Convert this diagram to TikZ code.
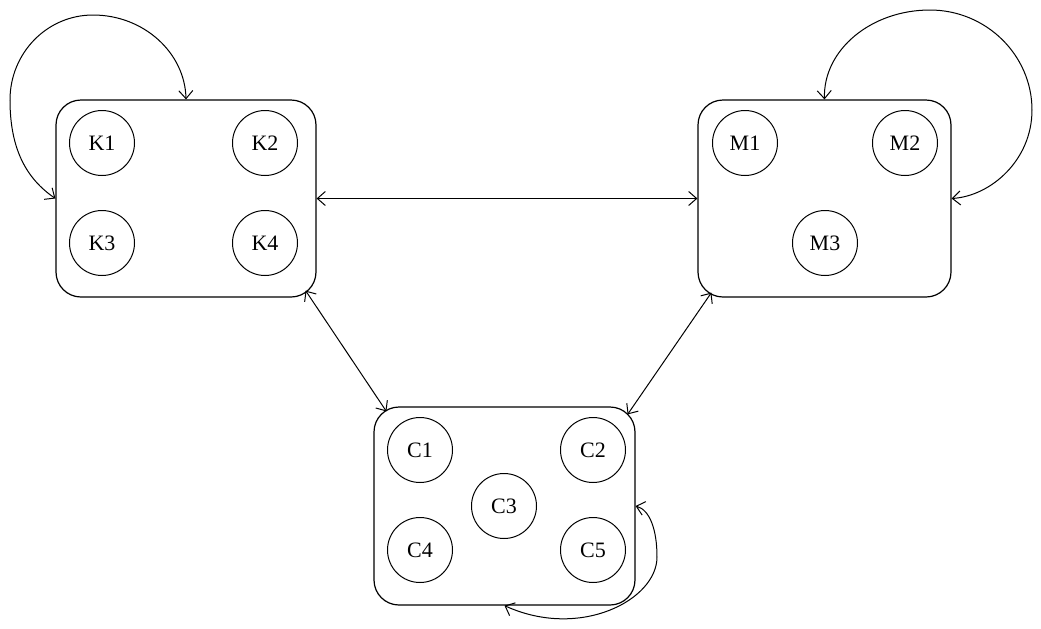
\documentclass[tikz,border=0pt]{standalone}
\usepackage{fontspec}
\setmainfont{Liberation Serif}
\usetikzlibrary{arrows.meta}
\begin{document}
\begin{tikzpicture}[x=0.5pt,y=-0.5pt,
  >={Straight Barb[length=4pt,width=7pt]},
  group/.style={draw,line width=0.6pt,rounded corners=12.5pt,inner sep=0pt},
  st/.style={draw,circle,line width=0.5pt,minimum size=32.5pt,inner sep=0pt,font=\fontsize{11}{13}\selectfont},
  link/.style={<->,line width=0.5pt}]
\useasboundingbox (0,0) rectangle (1041,628);
% groups
\node[group,minimum width=130pt,minimum height=98.5pt] (K) at (186,198.5) {};
\node[group,minimum width=126.5pt,minimum height=98.5pt] (M) at (824.5,198.5) {};
\node[group,minimum width=130.5pt,minimum height=99pt] (C) at (504.5,506) {};
% states
\node[st] (K1) at (102,143) {K1};
\node[st] (K2) at (265,143) {K2};
\node[st] (K3) at (102,243) {K3};
\node[st] (K4) at (265,243) {K4};
\node[st] (M1) at (745,143) {M1};
\node[st] (M2) at (905,143) {M2};
\node[st] (M3) at (825,243) {M3};
\node[st] (C1) at (420,450) {C1};
\node[st] (C2) at (593,450) {C2};
\node[st] (C3) at (504,506) {C3};
\node[st] (C4) at (420,550) {C4};
\node[st] (C5) at (593,550) {C5};
% connectors
\draw[link] (K.east) -- (M.west);
\draw[link] ([shift={(-11,-7)}]K.south east) -- ([shift={(13,5)}]C.north west);
\draw[link] ([shift={(14,-5)}]M.south west) -- ([shift={(-8,8)}]C.north east);
% loops
\draw[link] (K.west) .. controls (27,179) and (10,150) .. (10,100)
  .. controls (10,53) and (47,15) .. (93,15)
  .. controls (144,15) and (185,53) .. (K.north);
\draw[link] (M.north) .. controls (823,50) and (871,10) .. (930,10)
  .. controls (986,10) and (1032,55) .. (1032,110)
  .. controls (1032,160) and (991,196) .. (M.east);
\draw[link] (C.east) .. controls (650,510) and (657,530) .. (657,557)
  .. controls (657,600) and (580,640) .. (C.south);
\end{tikzpicture}
\end{document}
